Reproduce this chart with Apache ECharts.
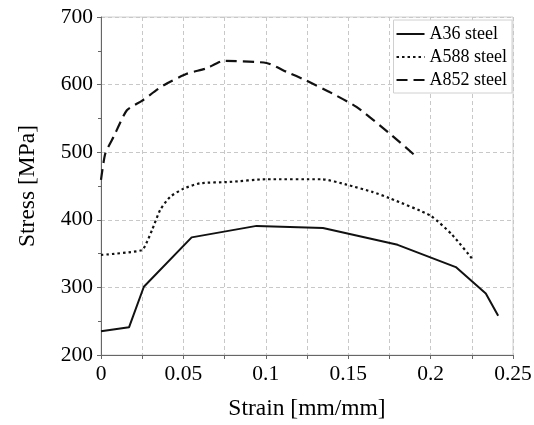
<!DOCTYPE html>
<html>
<head>
<meta charset="utf-8">
<script src="https://cdn.jsdelivr.net/npm/echarts@6/dist/echarts.min.js"></script>
<style>html,body{margin:0;padding:0;background:#fff;}#chart{width:534px;height:425px;}</style>
</head>
<body>
<div id="chart"></div>
<script>
const seriesNames = ['A36 steel', 'A588 steel', 'A852 steel'];

const a36Strain = [0, 0.017, 0.026, 0.055, 0.0944, 0.1347, 0.18, 0.2153, 0.2335, 0.241];
const a36Stress = [235, 241, 301, 374, 391, 388, 363, 330, 291, 258];

const a588Strain = [0, 0.0248, 0.028, 0.031, 0.036, 0.042, 0.05, 0.06, 0.078, 0.1, 0.134, 0.149, 0.165, 0.175, 0.2, 0.213, 0.225];
const a588Stress = [348, 355, 368, 385, 415, 434, 446, 454, 456, 460, 460, 452, 441, 432, 406, 378, 343];

const a852Strain = [0, 0.0026, 0.0077, 0.0157, 0.0248, 0.038, 0.052, 0.064, 0.0742, 0.1004, 0.1125, 0.1246, 0.1387, 0.155, 0.175, 0.192];
const a852Stress = [459, 498, 523, 562, 576, 599, 616, 624, 635, 632, 619, 606, 589, 567, 528, 492];

const xTicks = [0, 0.05, 0.1, 0.15, 0.2, 0.25];
const yTicks = [200, 300, 400, 500, 600, 700];

const pair = (xs, ys) => xs.map((x, i) => [x, ys[i]]);
const FONT = '"Liberation Serif", "Times New Roman", serif';

const chart = echarts.init(document.getElementById('chart'));
chart.setOption({
  animation: false,
  backgroundColor: '#fff',
  textStyle: { fontFamily: FONT, color: '#000' },
  grid: { left: 101, right: 21, top: 17, bottom: 70, show: true, borderColor: '#d0d0d0', borderWidth: 1, containLabel: false, outerBoundsMode: 'none' },
  legend: {
    orient: 'vertical', right: 22, top: 20,
    padding: [5, 5, 4, 2], itemGap: 5,
    itemWidth: 28, itemHeight: 14,
    backgroundColor: '#fff', borderColor: '#d0d0d0', borderWidth: 1,
    itemStyle: { opacity: 0 },
    textStyle: { fontFamily: FONT, fontSize: 18, color: '#000' },
    data: seriesNames
  },
  xAxis: {
    type: 'value', min: xTicks[0], max: xTicks[xTicks.length - 1], interval: 0.05,
    name: 'Strain [mm/mm]', nameLocation: 'middle', nameGap: 42,
    nameTextStyle: { fontFamily: FONT, fontSize: 23.5, color: '#000' },
    axisLine: { show: true, onZero: false, lineStyle: { color: '#666', width: 1 } },
    axisTick: { show: true, inside: false, length: 4, lineStyle: { color: '#666' } },
    minorTick: { show: true, splitNumber: 2, length: 4, lineStyle: { color: '#666' } },
    axisLabel: { fontFamily: FONT, fontSize: 21.5, color: '#000', margin: 8 },
    splitLine: { show: true, lineStyle: { color: '#c8c8c8', type: [4, 3] } },
    minorSplitLine: { show: true, lineStyle: { color: '#c8c8c8', type: [4, 3] } }
  },
  yAxis: {
    type: 'value', min: yTicks[0], max: yTicks[yTicks.length - 1], interval: 100,
    name: 'Stress [MPa]', nameLocation: 'middle', nameGap: 61, nameRotate: 90,
    nameTextStyle: { fontFamily: FONT, fontSize: 23.5, color: '#000' },
    axisLine: { show: true, onZero: false, lineStyle: { color: '#666', width: 1 } },
    axisTick: { show: true, inside: false, length: 4, lineStyle: { color: '#666' } },
    minorTick: { show: true, splitNumber: 2, length: 3, lineStyle: { color: '#666' } },
    axisLabel: { fontFamily: FONT, fontSize: 21.5, color: '#000', margin: 8 },
    splitLine: { show: true, lineStyle: { color: '#c8c8c8', type: [4, 3] } }
  },
  series: [
    { name: seriesNames[0], type: 'line', data: pair(a36Strain, a36Stress), symbol: 'none', lineStyle: { color: '#111', width: 2, type: 'solid' }, itemStyle: { color: '#111' } },
    { name: seriesNames[1], type: 'line', data: pair(a588Strain, a588Stress), symbol: 'none', smooth: 0.2, lineStyle: { color: '#111', width: 2.2, type: [2.5, 3] }, itemStyle: { color: '#111' } },
    { name: seriesNames[2], type: 'line', data: pair(a852Strain, a852Stress), symbol: 'none', smooth: 0.2, lineStyle: { color: '#111', width: 2.2, type: [11, 6] }, itemStyle: { color: '#111' } }
  ]
});
</script>
</body>
</html>
